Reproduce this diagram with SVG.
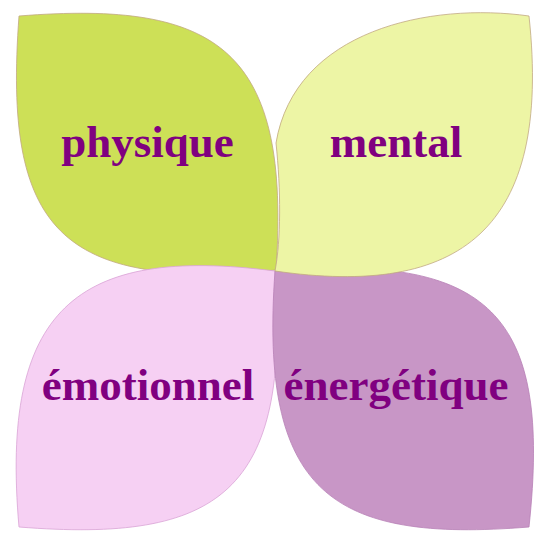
<svg xmlns="http://www.w3.org/2000/svg" width="550" height="547" viewBox="0 0 550 547">
<style>
.leaf{stroke-width:0.8}
.lbl{font-family:"Liberation Serif","Times New Roman",serif;font-weight:bold;font-size:45px;fill:#800080;text-anchor:middle}
</style>
<rect width="550" height="547" fill="#ffffff"/>
<g id="physique">
<path class="leaf" d="M19,16 C219,0 291,50 276,270 C60,290 3,230 19,16 Z" fill="#cde057" stroke="#c2a882"/>
<text class="lbl" x="147.5" y="157">physique</text>
</g>
<g id="emotionnel">
<path class="leaf" d="M19,527 C219,543 291,493 275,271 C75,245 0,310 19,527 Z" fill="#f6d0f3" stroke="#d9a3d6"/>
<text class="lbl" x="148" y="400">émotionnel</text>
</g>
<g id="energetique">
<path class="leaf" d="M529,527 C331,543 259,493 275,271 C490,253 552,313 529,527 Z" fill="#c896c6" stroke="#b880b6"/>
<text class="lbl" x="396" y="399.5">énergétique</text>
</g>
<g id="mental">
<path class="leaf" d="M529,16 C430,2 295,30 276,143 C281,190 281,240 275,271 C460,298 552,230 529,16 Z" fill="#edf5a5" stroke="#c2a882"/>
<text class="lbl" x="396" y="157">mental</text>
</g>
<g id="connectors"></g>
</svg>
